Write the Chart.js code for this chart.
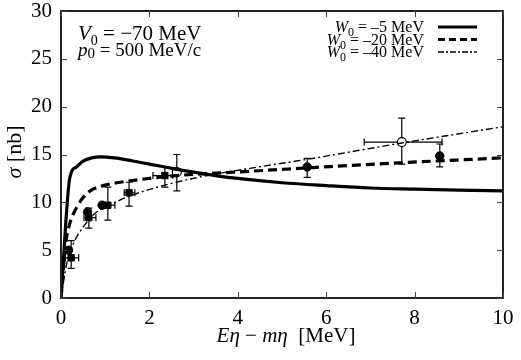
<!DOCTYPE html>
<html>
<head>
<meta charset="utf-8">
<script src="https://cdn.jsdelivr.net/npm/chart.js@4/dist/chart.umd.min.js"></script>
<style>html,body{margin:0;padding:0;background:#fff;}canvas{display:block;}</style>
</head>
<body>
<canvas id="c" width="521" height="360"></canvas>
<script>
// ---- theory curves ----
const curve5X  = [0, 0.2, 0.35, 0.5, 0.7, 0.9, 1.2, 1.6, 2.0, 2.5, 3.0, 3.5, 4.0, 5.0, 6.0, 7.0, 8.0, 9.0, 10];
const curve5Y  = [0, 12.6, 13.7, 14.3, 14.65, 14.75, 14.65, 14.35, 14.0, 13.55, 13.15, 12.8, 12.5, 12.05, 11.75, 11.5, 11.38, 11.28, 11.2];
const curve20X = [0, 0.1, 0.2, 0.36, 0.5, 0.66, 1.0, 1.27, 2.0, 2.76, 3.5, 4.27, 5.57, 7.3, 10];
const curve20Y = [0, 5.5, 7.8, 9.5, 10.5, 11.2, 11.8, 12.05, 12.5, 12.85, 13.05, 13.25, 13.6, 14.05, 14.65];
const curve40X = [0, 0.13, 0.28, 0.5, 0.73, 1.1, 1.52, 2.35, 3.14, 4.27, 5.57, 7.71, 10];
const curve40Y = [0, 3.6, 5.7, 7.4, 8.7, 9.7, 10.6, 11.8, 12.65, 13.55, 14.5, 16.2, 17.9];

// ---- experimental points ----
// filled circles
const fcX    = [0.17, 0.6, 0.93, 5.57, 8.57];
const fcY    = [5.0, 9.0, 9.7, 13.7, 14.85];
const fcYlo  = [null, null, null, 12.6, 13.7];
const fcYhi  = [null, null, null, 14.6, 16.1];
// filled squares
const fsX    = [0.23, 0.63, 1.06, 1.54, 2.35];
const fsY    = [4.2, 8.4, 9.7, 11.0, 12.8];
const fsXlo  = [0.1, 0.52, 0.97, 1.43, 2.08];
const fsXhi  = [0.4, 0.79, 1.22, 1.67, 2.53];
const fsYlo  = [3.1, 7.3, 8.15, 9.6, 11.6];
const fsYhi  = [6.0, 9.4, 11.6, 12.1, 13.7];
// open circles
const ocX    = [2.62, 7.71];
const ocY    = [13.15, 16.3];
const ocXlo  = [null, 6.86];
const ocXhi  = [null, 8.62];
const ocYlo  = [11.2, 14.0];
const ocYhi  = [15.0, 18.8];

// ---- labels ----
const legendLabels = ["-5", "-20", "-40"];
const xTicks = [0, 2, 4, 6, 8, 10];
const yTicks = [0, 5, 10, 15, 20, 25, 30];

const SERIF = "'Liberation Serif', 'DejaVu Serif', serif";

function pts(xs, ys) { return xs.map((x, i) => ({x: x, y: ys[i]})); }

const errSets = [
  {x: fcX, y: fcY, xlo: fcX.map(() => null), xhi: fcX.map(() => null), ylo: fcYlo, yhi: fcYhi},
  {x: fsX, y: fsY, xlo: fsXlo, xhi: fsXhi, ylo: fsYlo, yhi: fsYhi},
  {x: ocX, y: ocY, xlo: ocXlo, xhi: ocXhi, ylo: ocYlo, yhi: ocYhi}
];

const errorBars = {
  id: 'errorBars',
  beforeDatasetsDraw(chart) {
    const ctx = chart.ctx, xs = chart.scales.x, ys = chart.scales.y;
    ctx.save();
    ctx.setLineDash([]);
    ctx.strokeStyle = '#000';
    ctx.lineWidth = 1.2;
    const cap = 3.5;
    errSets.forEach(s => {
      s.x.forEach((xv, i) => {
        const px = xs.getPixelForValue(xv), py = ys.getPixelForValue(s.y[i]);
        if (s.ylo[i] != null) {
          const a = ys.getPixelForValue(s.ylo[i]), b = ys.getPixelForValue(s.yhi[i]);
          ctx.beginPath();
          ctx.moveTo(px, a); ctx.lineTo(px, b);
          ctx.moveTo(px - cap, a); ctx.lineTo(px + cap, a);
          ctx.moveTo(px - cap, b); ctx.lineTo(px + cap, b);
          ctx.stroke();
        }
        if (s.xlo[i] != null) {
          const a = xs.getPixelForValue(s.xlo[i]), b = xs.getPixelForValue(s.xhi[i]);
          ctx.beginPath();
          ctx.moveTo(a, py); ctx.lineTo(b, py);
          ctx.moveTo(a, py - cap); ctx.lineTo(a, py + cap);
          ctx.moveTo(b, py - cap); ctx.lineTo(b, py + cap);
          ctx.stroke();
        }
      });
    });
    ctx.restore();
  }
};

// draw a sequence of text runs: [text, size, italic, dy]
function drawRuns(ctx, runs, x, y, align) {
  let total = 0;
  runs.forEach(r => { ctx.font = (r[2] ? 'italic ' : '') + r[1] + 'px ' + SERIF; total += ctx.measureText(r[0]).width; });
  let cx = align === 'right' ? x - total : (align === 'center' ? x - total / 2 : x);
  ctx.textAlign = 'left';
  ctx.textBaseline = 'alphabetic';
  runs.forEach(r => {
    ctx.font = (r[2] ? 'italic ' : '') + r[1] + 'px ' + SERIF;
    ctx.fillText(r[0], cx, y + (r[3] || 0));
    cx += ctx.measureText(r[0]).width;
  });
}

const frame = {
  id: 'plotFrame',
  afterDraw(chart) {
    const ctx = chart.ctx, a = chart.chartArea, xs = chart.scales.x, ys = chart.scales.y;
    ctx.save();
    ctx.setLineDash([]);
    ctx.globalAlpha = 1;
    ctx.globalCompositeOperation = 'source-over';
    ctx.fillStyle = '#222';
    const L = Math.round(a.left), R = Math.round(a.right), T = Math.round(a.top), B = Math.round(a.bottom);
    // box
    ctx.fillRect(L - 1, T - 1, R - L + 2, 2);
    ctx.fillRect(L - 1, B - 1, R - L + 2, 2);
    ctx.fillRect(L - 1, T - 1, 2, B - T + 2);
    ctx.fillRect(R - 1, T - 1, 2, B - T + 2);
    // inward ticks, mirrored
    const tl = 6;
    ctx.fillStyle = '#444';
    xTicks.forEach(v => {
      const p = Math.round(xs.getPixelForValue(v));
      ctx.fillRect(p, B - tl, 1, tl);
      ctx.fillRect(p, T, 1, tl);
    });
    yTicks.forEach(v => {
      const p = Math.round(ys.getPixelForValue(v));
      ctx.fillRect(L, p, tl, 1);
      ctx.fillRect(R - tl, p, tl, 1);
    });

    ctx.fillStyle = '#000';
    // annotations
    drawRuns(ctx, [['V', 21, true], ['0', 14, false, 5], [' = \u221270 MeV', 21, false]], 78, 40, 'left');
    drawRuns(ctx, [['p', 19, true], ['0', 15, false, 2], [' = 500 MeV/c', 19, false]], 78, 56, 'left');

    // legend
    const rowsY = [27, 39.5, 52];
    const styles = [
      {w: 3.2, dash: []},
      {w: 3.2, dash: [7, 4]},
      {w: 1.4, dash: [6, 2, 2, 2]}
    ];
    legendLabels.forEach((lab, i) => {
      ctx.fillStyle = '#000';
      drawRuns(ctx, [['W', 16, true], ['0', 12, false, 4], [' = \u2013' + lab.replace('-', '') + ' MeV', 16, false]], 424, rowsY[i] + 5, 'right');
      ctx.beginPath();
      ctx.setLineDash(styles[i].dash);
      ctx.lineWidth = styles[i].w;
      ctx.strokeStyle = '#000';
      ctx.moveTo(438, rowsY[i]); ctx.lineTo(477, rowsY[i]);
      ctx.stroke();
    });
    ctx.setLineDash([]);

    // axis titles
    ctx.fillStyle = '#000';
    drawRuns(ctx, [['E', 21, true], ['\u03b7', 21, true], [' \u2212 ', 21, false], ['m', 21, true], ['\u03b7', 21, true], ['  [MeV]', 21, false]], 286, 342, 'center');
    ctx.save();
    ctx.translate(21, 152);
    ctx.rotate(-Math.PI / 2);
    drawRuns(ctx, [['\u03c3', 22, true], [' [nb]', 22, false]], 0, 0, 'center');
    ctx.restore();
    ctx.restore();
  }
};

new Chart(document.getElementById('c'), {
  type: 'line',
  data: {
    datasets: [
      {label: 'W0 = -5 MeV', data: pts(curve5X, curve5Y), borderColor: '#000', borderWidth: 3.2, pointRadius: 0, cubicInterpolationMode: 'monotone', fill: false},
      {label: 'W0 = -20 MeV', data: pts(curve20X, curve20Y), borderColor: '#000', borderWidth: 3.2, borderDash: [9, 5], pointRadius: 0, cubicInterpolationMode: 'monotone', fill: false},
      {label: 'W0 = -40 MeV', data: pts(curve40X, curve40Y), borderColor: '#000', borderWidth: 1.4, borderDash: [7, 3, 2, 3], pointRadius: 0, cubicInterpolationMode: 'monotone', fill: false},
      {label: 'data circles', data: pts(fcX, fcY), showLine: false, pointStyle: 'circle', pointRadius: 4.2, backgroundColor: '#000', borderColor: '#000', borderWidth: 1},
      {label: 'data squares', data: pts(fsX, fsY), showLine: false, pointStyle: 'rect', pointRadius: 4.5, backgroundColor: '#000', borderColor: '#000', borderWidth: 1},
      {label: 'data open', data: pts(ocX, ocY), showLine: false, pointStyle: 'circle', pointRadius: 4.5, backgroundColor: '#fff', borderColor: '#000', borderWidth: 1.2}
    ]
  },
  options: {
    responsive: false,
    animation: false,
    layout: {padding: {top: 11, right: 18, left: 0, bottom: 0}},
    plugins: {legend: {display: false}, tooltip: {enabled: false}},
    scales: {
      x: {
        type: 'linear', min: 0, max: 10,
        afterBuildTicks: s => { s.ticks = xTicks.map(v => ({value: v})); },
        afterFit: s => { s.height = 62; s.paddingLeft = 0; s.paddingRight = 0; },
        grid: {display: false, drawTicks: false},
        border: {display: false},
        ticks: {color: '#000', padding: 8, font: {family: SERIF, size: 21}}
      },
      y: {
        type: 'linear', min: 0, max: 30,
        afterBuildTicks: s => { s.ticks = yTicks.map(v => ({value: v})); },
        afterFit: s => { s.width = 61; s.paddingTop = 0; s.paddingBottom = 0; },
        grid: {display: false, drawTicks: false},
        border: {display: false},
        ticks: {color: '#000', padding: 9, font: {family: SERIF, size: 21}}
      }
    }
  },
  plugins: [errorBars, frame]
});
</script>
</body>
</html>
